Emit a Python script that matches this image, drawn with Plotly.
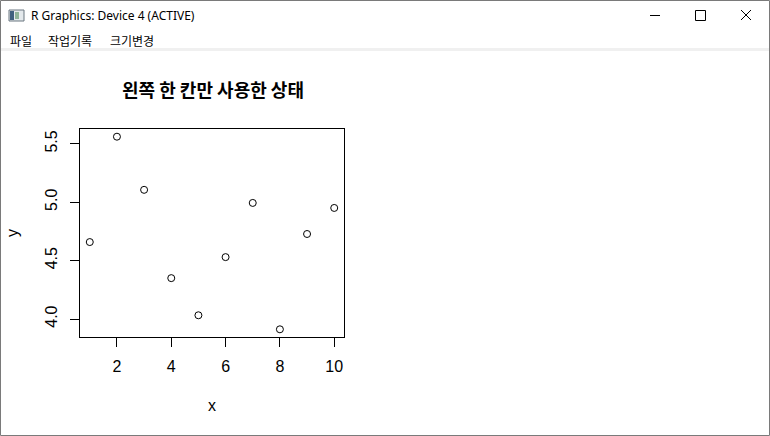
import plotly.graph_objects as go

# ---- data ----
x_vals = [1, 2, 3, 4, 5, 6, 7, 8, 9, 10]
y_vals = [4.659, 5.561, 5.106, 4.350, 4.032, 4.530, 4.994, 3.912, 4.728, 4.951]
x_ticks = [2, 4, 6, 8, 10]
y_ticks = [4.0, 4.5, 5.0, 5.5]
y_tick_labels = ["4.0", "4.5", "5.0", "5.5"]
title_text = "왼쪽 한 칸만 사용한 상태"
window_title = "R Graphics: Device 4 (ACTIVE)"
menu_items = ["파일", "작업기록", "크기변경"]

W, H = 770, 436
L, R, T, B = 80, 344, 129, 337


def X(px):
    return (px - L) / (R - L)


def Y(py):
    return (B - py) / (B - T)


# R style axis ranges (4% extension)
xmin, xmax = min(x_vals), max(x_vals)
ymin, ymax = min(y_vals), max(y_vals)
xpad = (xmax - xmin) * 0.04
ypad = (ymax - ymin) * 0.04

fig = go.Figure()
fig.add_trace(go.Scatter(
    x=x_vals, y=y_vals, mode="markers",
    marker=dict(symbol="circle-open", size=7, color="black", line=dict(width=1, color="black")),
    hoverinfo="x+y", showlegend=False,
))

axis_font = dict(family="Liberation Sans, Arial, sans-serif", size=16, color="black")

fig.update_layout(
    width=W, height=H,
    margin=dict(l=L, r=W - R, t=T, b=H - B, pad=0, autoexpand=False),
    paper_bgcolor="white", plot_bgcolor="white",
    title=dict(text="<b>" + title_text + "</b>", x=X(213), xref="paper", xanchor="center",
               y=1 - 91 / H, yref="container", yanchor="middle",
               font=dict(family="Noto Sans CJK KR", size=18, color="black")),
    xaxis=dict(range=[xmin - xpad, xmax + xpad], tickvals=x_ticks, ticktext=[str(v) for v in x_ticks],
               showgrid=False, zeroline=False, showline=True, linecolor="black", linewidth=1, mirror=True,
               ticks="outside", ticklen=9, tickwidth=1, tickcolor="black", tickfont=axis_font,
               ticklabelstandoff=6, automargin=False,
               title=dict(text="x", font=axis_font, standoff=25)),
    yaxis=dict(range=[ymin - ypad, ymax + ypad], tickvals=y_ticks, ticktext=y_tick_labels,
               showgrid=False, zeroline=False, showline=True, linecolor="black", linewidth=1, mirror=True,
               ticks="outside", ticklen=9, tickwidth=1, tickcolor="black", tickfont=axis_font,
               tickangle=-90, ticklabelstandoff=7, automargin=False,
               title=dict(text="y", font=axis_font, standoff=19)),
)

shapes = []
# window border
shapes.append(dict(type="rect", xref="paper", yref="paper", x0=X(0.5), x1=X(769.5), y0=Y(0.5), y1=Y(435.5),
                   line=dict(color="#7a7a7a", width=1), fillcolor="rgba(0,0,0,0)", layer="above"))
# separator under menu
shapes.append(dict(type="rect", xref="paper", yref="paper", x0=X(1), x1=X(769), y0=Y(48), y1=Y(51),
                   line=dict(width=0), fillcolor="#f0f0f0", layer="below"))
# icon
shapes.append(dict(type="rect", xref="paper", yref="paper", x0=X(9), x1=X(24), y0=Y(10), y1=Y(21),
                   line=dict(color="#6b7680", width=1), fillcolor="#e4e9ec", layer="above"))
shapes.append(dict(type="rect", xref="paper", yref="paper", x0=X(10), x1=X(14), y0=Y(11), y1=Y(20),
                   line=dict(width=0), fillcolor="#3f5f7f", layer="above"))
shapes.append(dict(type="rect", xref="paper", yref="paper", x0=X(15), x1=X(19), y0=Y(12), y1=Y(19),
                   line=dict(width=0), fillcolor="#8fb39a", layer="above"))
# minimize
shapes.append(dict(type="line", xref="paper", yref="paper", x0=X(650), x1=X(660), y0=Y(15.5), y1=Y(15.5),
                   line=dict(color="black", width=1)))
# maximize
shapes.append(dict(type="rect", xref="paper", yref="paper", x0=X(695.5), x1=X(705.5), y0=Y(10.5), y1=Y(20.5),
                   line=dict(color="black", width=1), fillcolor="rgba(0,0,0,0)"))
# close
shapes.append(dict(type="line", xref="paper", yref="paper", x0=X(741), x1=X(751), y0=Y(10), y1=Y(20),
                   line=dict(color="black", width=1)))
shapes.append(dict(type="line", xref="paper", yref="paper", x0=X(741), x1=X(751), y0=Y(20), y1=Y(10),
                   line=dict(color="black", width=1)))
fig.update_layout(shapes=shapes)

ann = []
ann.append(dict(text=window_title, xref="paper", yref="paper", x=X(29), y=Y(15.5), xanchor="left",
                yanchor="middle", showarrow=False,
                font=dict(family="Noto Sans, sans-serif", size=12, color="black")))
for label, px in zip(menu_items, [8, 46, 108]):
    ann.append(dict(text=label, xref="paper", yref="paper", x=X(px), y=Y(40.5), xanchor="left",
                    yanchor="middle", showarrow=False,
                    font=dict(family="Noto Sans CJK KR", size=12, color="black")))
fig.update_layout(annotations=ann)

post = ("document.body.style.margin='0';document.body.style.padding='0';"
        "var gd=document.getElementById('{plot_id}');"
        "gd.style.position='fixed';gd.style.left='0px';gd.style.top='0px';")
fig.write_html("out.html", config={"displayModeBar": False}, post_script=post)
